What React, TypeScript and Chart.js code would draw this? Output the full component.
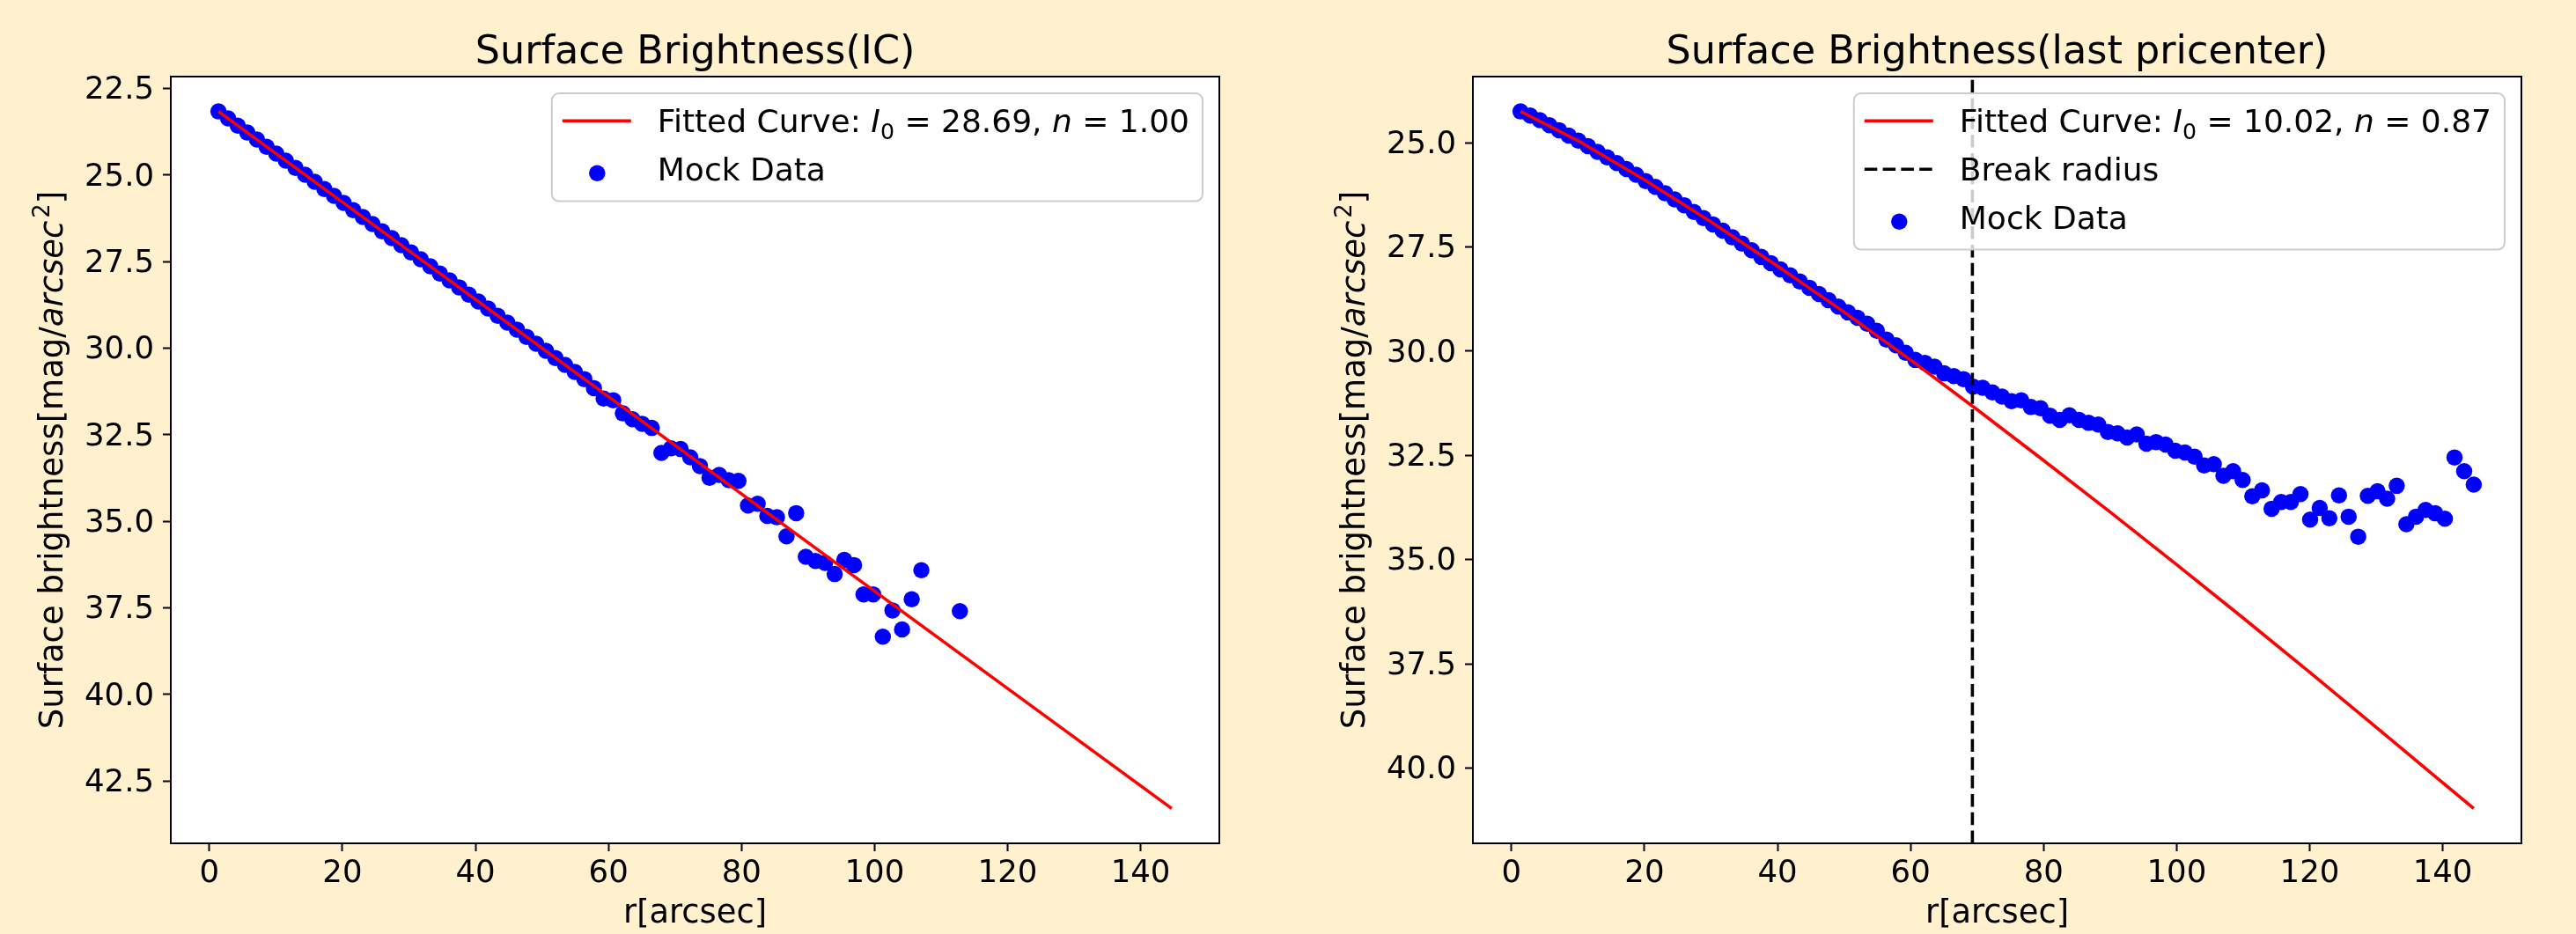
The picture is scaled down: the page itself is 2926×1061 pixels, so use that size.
import React, { useEffect, useRef } from 'react';
import { Chart, registerables } from 'chart.js';

Chart.register(...registerables);

// ---------------- data ----------------
const radii = [
  1.37, 2.82, 4.27, 5.71, 7.16, 8.61, 10.06, 11.5, 12.95, 14.4,
  15.85, 17.29, 18.74, 20.19, 21.64, 23.08, 24.53, 25.98, 27.43, 28.87,
  30.32, 31.77, 33.22, 34.66, 36.11, 37.56, 39.01, 40.45, 41.9, 43.35,
  44.8, 46.24, 47.69, 49.14, 50.59, 52.03, 53.48, 54.93, 56.38, 57.82,
  59.27, 60.72, 62.17, 63.61, 65.06, 66.51, 67.96, 69.4, 70.85, 72.3,
  73.75, 75.19, 76.64, 78.09, 79.54, 80.98, 82.43, 83.88, 85.33, 86.77,
  88.22, 89.67, 91.12, 92.56, 94.01, 95.46, 96.91, 98.35, 99.8, 101.25,
  102.7, 104.14, 105.59, 107.04, 108.49, 109.93, 111.38, 112.83, 114.28, 115.72,
  117.17, 118.62, 120.07, 121.51, 122.96, 124.41, 125.86, 127.3, 128.75, 130.2,
  131.65, 133.09, 134.54, 135.99, 137.44, 138.88, 140.33, 141.78, 143.23, 144.67,
];

const icMag: (number | null)[] = [
  23.16, 23.36, 23.57, 23.77, 23.97, 24.18, 24.38, 24.58, 24.79, 24.99,
  25.19, 25.4, 25.6, 25.8, 26.01, 26.21, 26.41, 26.62, 26.82, 27.02,
  27.23, 27.43, 27.63, 27.84, 28.04, 28.24, 28.45, 28.65, 28.85, 29.06,
  29.26, 29.46, 29.67, 29.87, 30.07, 30.28, 30.48, 30.68, 30.89, 31.15,
  31.45, 31.5, 31.88, 32.05, 32.18, 32.3, 33.02, 32.89, 32.91, 33.15,
  33.4, 33.74, 33.66, 33.81, 33.83, 34.54, 34.49, 34.84, 34.88, 35.43,
  34.76, 36.02, 36.14, 36.2, 36.52, 36.11, 36.26, 37.11, 37.11, 38.33,
  37.57, 38.12, 37.25, 36.41, null, null, null, 37.59, null, null,
  null, null, null, null, null, null, null, null, null, null,
  null, null, null, null, null, null, null, null, null, null,
];

const lastMag: (number | null)[] = [
  24.25, 24.35, 24.46, 24.58, 24.7, 24.83, 24.95, 25.08, 25.22, 25.35,
  25.49, 25.63, 25.77, 25.92, 26.06, 26.21, 26.36, 26.5, 26.66, 26.81,
  26.96, 27.11, 27.27, 27.42, 27.58, 27.74, 27.89, 28.04, 28.18, 28.33,
  28.48, 28.63, 28.78, 28.93, 29.07, 29.2, 29.34, 29.51, 29.72, 29.86,
  30.04, 30.21, 30.28, 30.37, 30.53, 30.6, 30.67, 30.85, 30.88, 30.99,
  31.09, 31.2, 31.18, 31.34, 31.37, 31.55, 31.65, 31.54, 31.65, 31.72,
  31.76, 31.94, 31.97, 32.07, 32.0, 32.22, 32.18, 32.24, 32.39, 32.43,
  32.53, 32.74, 32.71, 32.99, 32.88, 33.09, 33.48, 33.34, 33.78, 33.62,
  33.62, 33.43, 34.04, 33.76, 34.01, 33.46, 33.97, 34.45, 33.47, 33.36,
  33.54, 33.23, 34.15, 33.97, 33.81, 33.89, 34.02, 32.55, 32.88, 33.2,
];

const icFitR = [1.37, 144.67];
const icFitMag = [23.16, 43.29];

const lastFitR = [1.37, 10, 20, 30, 40, 50, 60, 70, 80, 90, 100, 110, 120, 130, 140, 144.67];
const lastFitMag = [24.25, 24.95, 25.89, 26.9, 27.96, 29.06, 30.21, 31.4, 32.62, 33.86, 35.12, 36.4, 37.7, 39.02, 40.35, 40.97];

const breakRadius = 69.3;

const xTicks = [0, 20, 40, 60, 80, 100, 120, 140];
const icYTicks = [22.5, 25, 27.5, 30, 32.5, 35, 37.5, 40, 42.5];
const lastYTicks = [25, 27.5, 30, 32.5, 35, 37.5, 40];

const icFitParams = ['28.69', '1.00'];
const lastFitParams = ['10.02', '0.87'];

const icTitle = 'Surface Brightness(IC)';
const lastTitle = 'Surface Brightness(last pricenter)';
const xLabel = 'r[arcsec]';

// ---------------- styling ----------------
const FONT = "'DejaVu Sans', sans-serif";
const CREAM = '#FFF0CE';
const BLUE = '#0000ff';
const RED = '#ff0000';
const TICK_SIZE = 35.5;
const LABEL_SIZE = 36.8;
const YLABEL_SIZE = 37;
const LEGEND_SIZE = 36;
const TITLE_SIZE = 44.5;
const DASH = [14.5, 6.3];

type Seg = { t: string; s?: 'i' | 'sub' | 'sup' };

function segFont(size: number, s?: string) {
  const sz = s === 'sub' || s === 'sup' ? size * 0.7 : size;
  return `${s === 'i' ? 'italic ' : ''}${sz}px ${FONT}`;
}

function richWidth(ctx: CanvasRenderingContext2D, segs: Seg[], size: number) {
  let w = 0;
  for (const sg of segs) {
    ctx.font = segFont(size, sg.s);
    w += ctx.measureText(sg.t).width + (sg.s === 'sup' ? size * 0.08 : 0);
  }
  return w;
}

function drawRich(ctx: CanvasRenderingContext2D, segs: Seg[], x: number, y: number, size: number) {
  ctx.textAlign = 'left';
  ctx.textBaseline = 'alphabetic';
  let cx = x;
  for (const sg of segs) {
    ctx.font = segFont(size, sg.s);
    const dy = sg.s === 'sub' ? size * 0.22 : sg.s === 'sup' ? -size * 0.4 : 0;
    const pre = sg.s === 'sup' ? size * 0.08 : 0;
    ctx.fillText(sg.t, cx + pre, y + dy);
    cx += ctx.measureText(sg.t).width + pre;
  }
}

const yLabelSegs: Seg[] = [
  { t: 'Surface brightness[mag/' },
  { t: 'arcsec', s: 'i' },
  { t: '2', s: 'sup' },
  { t: ']' },
];

function fitLabel(params: string[]): Seg[] {
  return [
    { t: 'Fitted Curve: ' },
    { t: 'I', s: 'i' },
    { t: '0', s: 'sub' },
    { t: ` = ${params[0]}, ` },
    { t: 'n', s: 'i' },
    { t: ` = ${params[1]}` },
  ];
}

type LegendEntry = { kind: 'line' | 'dash' | 'dot'; color: string; label: Seg[] };

interface PanelSpec {
  left: number;
  axesLeft: number;
  rightGap: number;
  title: string;
  mags: (number | null)[];
  fitR: number[];
  fitMag: number[];
  yTicks: number[];
  params: string[];
  breakR: number | null;
}

const W = 1463;
const H = 1061;
const AXES_TOP = 87;
const AXES_BOTTOM = 958;

function makeConfig(p: PanelSpec): any {
  const points = radii
    .map((r, i) => ({ x: r, y: p.mags[i] }))
    .filter((d) => d.y !== null) as { x: number; y: number }[];
  const fit = p.fitR.map((r, i) => ({ x: r, y: p.fitMag[i] }));

  const allX = points.map((d) => d.x).concat(p.fitR);
  const allY = points.map((d) => d.y).concat(p.fitMag);
  const xLo = Math.min(...allX), xHi = Math.max(...allX);
  const yLo = Math.min(...allY), yHi = Math.max(...allY);
  const xPad = 0.05 * (xHi - xLo), yPad = 0.05 * (yHi - yLo);

  const legendEntries: LegendEntry[] = [{ kind: 'line', color: RED, label: fitLabel(p.params) }];
  if (p.breakR !== null) legendEntries.push({ kind: 'dash', color: '#000', label: [{ t: 'Break radius' }] });
  legendEntries.push({ kind: 'dot', color: BLUE, label: [{ t: 'Mock Data' }] });

  const decor = {
    id: 'decor',
    beforeDraw(chart: any) {
      const { ctx, width, height, chartArea: a } = chart;
      ctx.save();
      ctx.fillStyle = CREAM;
      ctx.fillRect(0, 0, width, height);
      ctx.fillStyle = '#ffffff';
      ctx.fillRect(a.left, a.top, a.right - a.left, a.bottom - a.top);
      ctx.restore();
    },
    afterDatasetsDraw(chart: any) {
      if (p.breakR === null) return;
      const { ctx, chartArea: a } = chart;
      const x = chart.scales.x.getPixelForValue(p.breakR);
      ctx.save();
      ctx.beginPath();
      ctx.setLineDash(DASH);
      ctx.lineWidth = 3.6;
      ctx.strokeStyle = '#000';
      ctx.moveTo(x, a.bottom);
      ctx.lineTo(x, a.top);
      ctx.stroke();
      ctx.restore();
    },
    afterDraw(chart: any) {
      const { ctx, chartArea: a } = chart;
      ctx.save();
      // frame
      ctx.lineWidth = 2;
      ctx.strokeStyle = '#000';
      ctx.setLineDash([]);
      ctx.strokeRect(a.left, a.top, a.right - a.left, a.bottom - a.top);
      // title
      ctx.fillStyle = '#000';
      ctx.font = `${TITLE_SIZE}px ${FONT}`;
      ctx.textAlign = 'center';
      ctx.textBaseline = 'alphabetic';
      ctx.fillText(p.title, (a.left + a.right) / 2, 72);
      // y label
      const yw = richWidth(ctx, yLabelSegs, YLABEL_SIZE);
      ctx.save();
      ctx.translate(a.left - 123.5, (a.top + a.bottom) / 2);
      ctx.rotate(-Math.PI / 2);
      ctx.fillStyle = '#000';
      drawRich(ctx, yLabelSegs, -yw / 2, 0, YLABEL_SIZE);
      ctx.restore();
      // legend
      const textW = Math.max(...legendEntries.map((e) => richWidth(ctx, e.label, LEGEND_SIZE)));
      const bw = 120 + textW + 15;
      const bh = 44.3 + (legendEntries.length - 1) * 55 + 23.3;
      const x0 = a.right - 19 - bw;
      const y0 = a.top + 19;
      ctx.beginPath();
      ctx.roundRect(x0, y0, bw, bh, 8);
      ctx.fillStyle = 'rgba(255,255,255,0.8)';
      ctx.fill();
      ctx.lineWidth = 2;
      ctx.strokeStyle = '#cccccc';
      ctx.stroke();
      legendEntries.forEach((e, i) => {
        const base = y0 + 44.3 + i * 55;
        if (e.kind === 'dot') {
          ctx.beginPath();
          ctx.arc(x0 + 51.5, base - 8.5, 9.25, 0, Math.PI * 2);
          ctx.fillStyle = e.color;
          ctx.fill();
        } else {
          ctx.beginPath();
          ctx.setLineDash(e.kind === 'dash' ? DASH : []);
          ctx.lineWidth = 3.6;
          ctx.strokeStyle = e.color;
          ctx.moveTo(x0 + 12, base - 13);
          ctx.lineTo(x0 + 90, base - 13);
          ctx.stroke();
          ctx.setLineDash([]);
        }
        ctx.fillStyle = '#000';
        drawRich(ctx, e.label, x0 + 120, base, LEGEND_SIZE);
      });
      ctx.restore();
    },
  };

  const commonGrid = {
    drawOnChartArea: false,
    drawTicks: true,
    tickLength: 9,
    tickWidth: 2,
    tickColor: '#000',
  };

  return {
    type: 'scatter',
    data: {
      datasets: [
        {
          type: 'line',
          label: 'Fitted Curve',
          data: fit,
          borderColor: RED,
          borderWidth: 3.6,
          pointRadius: 0,
          showLine: true,
          fill: false,
          tension: 0,
          order: 0,
        },
        {
          type: 'scatter',
          label: 'Mock Data',
          data: points,
          pointRadius: 9.25,
          pointBorderWidth: 0,
          pointBackgroundColor: BLUE,
          borderColor: BLUE,
          backgroundColor: BLUE,
          order: 1,
        },
      ],
    },
    options: {
      animation: false,
      responsive: false,
      devicePixelRatio: 1,
      events: [],
      layout: { padding: { top: AXES_TOP, right: p.rightGap, left: 0, bottom: 0 } },
      plugins: {
        legend: { display: false },
        title: { display: false },
        tooltip: { enabled: false },
      },
      scales: {
        x: {
          type: 'linear',
          min: xLo - xPad,
          max: xHi + xPad,
          afterFit: (s: any) => {
            s.height = H - AXES_BOTTOM;
          },
          afterBuildTicks: (s: any) => {
            s.ticks = xTicks.map((v) => ({ value: v }));
          },
          ticks: {
            font: { family: FONT, size: TICK_SIZE },
            color: '#000',
            padding: 4.4,
            maxRotation: 0,
            autoSkip: false,
            callback: (v: any) => String(v),
          },
          grid: commonGrid,
          border: { display: false },
          title: {
            display: true,
            text: xLabel,
            font: { family: FONT, size: LABEL_SIZE },
            color: '#000',
            padding: { top: 0, bottom: 0 },
          },
        },
        y: {
          type: 'linear',
          reverse: true,
          min: yLo - yPad,
          max: yHi + yPad,
          afterFit: (s: any) => {
            s.width = p.axesLeft;
          },
          afterBuildTicks: (s: any) => {
            s.ticks = p.yTicks.map((v) => ({ value: v }));
          },
          ticks: {
            font: { family: FONT, size: TICK_SIZE },
            color: '#000',
            padding: 10,
            labelOffset: 2.5,
            autoSkip: false,
            callback: (v: any) => Number(v).toFixed(1),
          },
          grid: commonGrid,
          border: { display: false },
        },
      },
    },
    plugins: [decor],
  };
}

function Panel({ spec }: { spec: PanelSpec }) {
  const ref = useRef<HTMLCanvasElement>(null);
  useEffect(() => {
    if (!ref.current) return;
    const chart = new Chart(ref.current, makeConfig(spec));
    return () => chart.destroy();
  }, [spec]);
  return (
    <canvas
      ref={ref}
      width={W}
      height={H}
      style={{ position: 'absolute', left: spec.left, top: 0, width: W, height: H }}
    />
  );
}

const icSpec: PanelSpec = {
  left: 0,
  axesLeft: 194,
  rightGap: 78,
  title: icTitle,
  mags: icMag,
  fitR: icFitR,
  fitMag: icFitMag,
  yTicks: icYTicks,
  params: icFitParams,
  breakR: null,
};

const lastSpec: PanelSpec = {
  left: 1463,
  axesLeft: 210,
  rightGap: 62,
  title: lastTitle,
  mags: lastMag,
  fitR: lastFitR,
  fitMag: lastFitMag,
  yTicks: lastYTicks,
  params: lastFitParams,
  breakR: breakRadius,
};

export default function App() {
  useEffect(() => {
    document.body.style.margin = '0';
    document.body.style.background = CREAM;
    document.body.style.overflow = 'hidden';
  }, []);
  return (
    <div style={{ position: 'relative', width: 2926, height: 1061, background: CREAM, overflow: 'hidden' }}>
      <Panel spec={icSpec} />
      <Panel spec={lastSpec} />
    </div>
  );
}
